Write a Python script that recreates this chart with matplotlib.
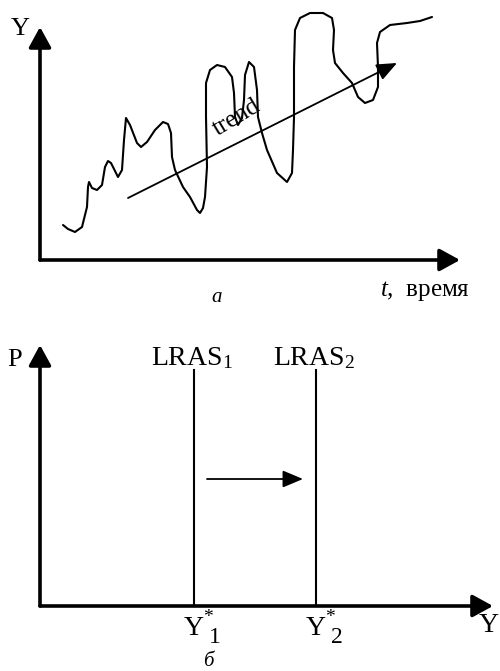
import matplotlib.pyplot as plt

plt.rcParams['font.family'] = ['Liberation Serif', 'DejaVu Serif']
plt.rcParams['mathtext.fontset'] = 'custom'
plt.rcParams['mathtext.rm'] = 'Liberation Serif'
plt.rcParams['mathtext.it'] = 'Liberation Serif:italic'

# panel a: output over time (pixel offsets from the axis origin)
series_x = [23, 28, 35, 42, 47, 48, 49, 52, 57, 62, 65, 68, 71, 78, 82, 84, 86, 90, 97, 101,
            107, 115, 123, 128, 131, 132, 135, 143, 150, 157, 160, 163, 165, 167, 166, 166,
            170, 177, 185, 192, 194, 195, 198, 202, 204, 205, 209, 214, 217, 218, 222, 227,
            237, 247, 252, 253, 254, 254, 255, 260, 270, 283, 292, 294, 293, 295, 303, 312,
            318, 325, 333, 338, 338, 337, 340, 350, 367, 380, 392]
series_y = [35, 31, 28, 33, 53, 73, 78, 72, 70, 75, 93, 99, 97, 83, 90, 120, 142, 135, 117, 113,
            118, 130, 138, 136, 127, 103, 90, 73, 63, 50, 47, 52, 63, 93, 143, 177,
            190, 195, 193, 183, 167, 143, 135, 142, 160, 185, 198, 193, 170, 143, 127, 110,
            87, 78, 87, 110, 143, 193, 230, 242, 247, 247, 242, 230, 210, 197, 187, 177,
            163, 157, 160, 173, 193, 217, 228, 235, 237, 239, 243]
trend_start = (88, 62)
trend_end = (357, 197)

# panel б: long-run aggregate supply shift
lras_x = [154, 276]
lras_top = 236
lras_labels = ['1', '2']
shift_y = 127

fig = plt.figure(figsize=(5, 6.71), dpi=100)

arrow_thick = dict(arrowstyle='-|>,head_length=0.62,head_width=0.34', mutation_scale=20,
                   lw=2.6, color='black', shrinkA=0, shrinkB=0)
arrow_thin = dict(arrowstyle='-|>,head_length=0.62,head_width=0.26', mutation_scale=20,
                  lw=1.3, color='black', shrinkA=0, shrinkB=0)

# ---- panel a ----
ax1 = fig.add_axes([0, 1 - 310 / 671, 1, 310 / 671])
ax1.set_xlim(-40, 460)
ax1.set_ylim(-50, 260)
ax1.axis('off')
ax1.annotate('', xy=(0, 233), xytext=(0, 0), arrowprops=arrow_thick)
ax1.annotate('', xy=(420, 0), xytext=(0, 0), arrowprops=arrow_thick)
ax1.plot(series_x, series_y, color='black', lw=1.5, solid_joinstyle='round',
         solid_capstyle='round')
ax1.annotate('', xy=trend_end, xytext=trend_start, arrowprops=arrow_thin)
ax1.text(197, 142, 'trend', fontsize=18, rotation=31, ha='center', va='center',
         rotation_mode='anchor')
ax1.text(-20, 231, 'Y', fontsize=19, ha='center', va='center')
ax1.text(340, -36, r'$t$,  время', fontsize=18, ha='left', va='baseline')
ax1.text(177, -37, 'а', fontsize=15, style='italic', ha='center', va='center')

# ---- panel b ----
ax2 = fig.add_axes([0, 0, 1, 341 / 671])
ax2.set_xlim(-40, 460)
ax2.set_ylim(-65, 276)
ax2.axis('off')
ax2.annotate('', xy=(0, 261), xytext=(0, 0), arrowprops=arrow_thick)
ax2.annotate('', xy=(453, 0), xytext=(0, 0), arrowprops=arrow_thick)
for x, sub in zip(lras_x, lras_labels):
    ax2.plot([x, x], [0, lras_top], color='black', lw=1.5)
    ax2.text(x - 2, 241, r'$\mathrm{LRAS}_{' + sub + '}$', fontsize=20,
             ha='center', va='baseline')
    ax2.text(x, -29, 'Y', fontsize=20, ha='center', va='baseline')
    ax2.text(x + 14, -11, '*', fontsize=14, ha='center', va='center')
    ax2.text(x + 21, -37, sub, fontsize=17, ha='center', va='baseline')
ax2.annotate('', xy=(lras_x[1] - 13, shift_y), xytext=(lras_x[0] + 13, shift_y),
             arrowprops=arrow_thin)
ax2.text(-25, 246, 'P', fontsize=19, ha='center', va='center')
ax2.text(449, -19, 'Y', fontsize=20, ha='center', va='center')
ax2.text(168, -55, 'б', fontsize=15, style='italic', ha='center', va='center')

fig.savefig('out.png', dpi=100)
